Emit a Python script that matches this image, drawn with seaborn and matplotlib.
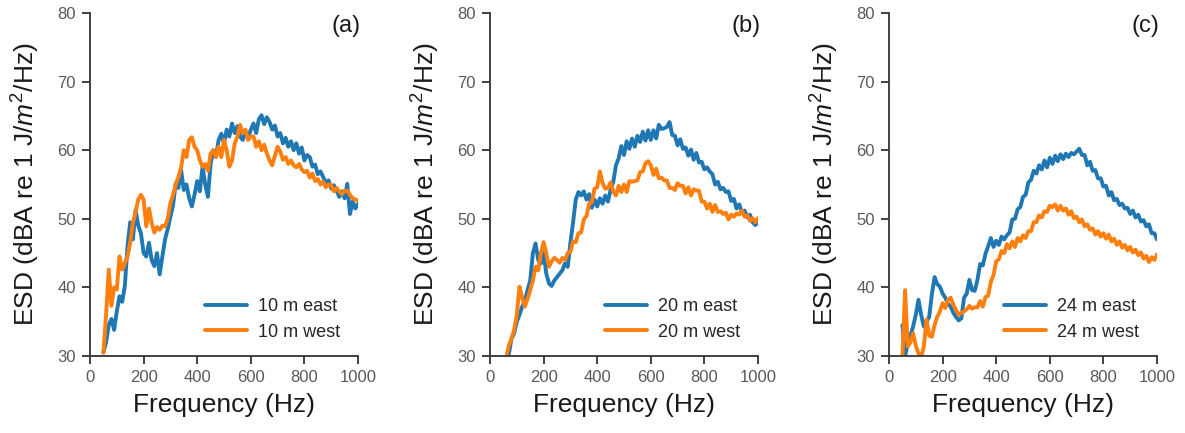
import matplotlib
matplotlib.use("Agg")
import matplotlib.pyplot as plt
import seaborn as sns
import pandas as pd

# ---------------- data ----------------
freq = list(range(50, 1001, 10))

east_10 = [30.5, 32.0, 34.5, 35.4, 33.8, 36.5, 38.7, 37.9, 40.2, 46.0,
           49.5, 47.0, 51.3, 49.0, 47.9, 45.0, 44.5, 46.5, 44.0, 43.1,
           45.0, 41.9, 44.5, 47.0, 48.5, 50.3, 52.0, 55.2, 54.5, 57.1,
           54.2, 55.0, 53.0, 51.8, 53.5, 55.5, 54.0, 57.6, 55.0, 53.2,
           58.0, 60.0, 59.0, 61.5, 62.4, 61.0, 63.0, 62.0, 63.9, 62.5,
           63.5, 62.0, 61.5, 62.8, 61.8, 63.0, 63.9, 62.5, 64.5, 65.1,
           63.8, 64.8, 64.1, 63.0, 63.6, 62.0, 62.5, 61.0, 61.8, 60.5,
           61.3, 60.0, 61.0, 59.5, 60.4, 58.5, 59.3, 59.0, 57.6, 57.9,
           56.5, 56.9, 56.1, 55.2, 55.6, 54.4, 54.9, 54.1, 53.2, 54.0,
           53.0, 55.1, 50.7, 52.5, 51.5, 52.2]
west_10 = [30.5, 36.0, 42.6, 37.3, 40.0, 39.7, 44.5, 42.6, 43.5, 44.5,
           46.5, 49.4, 51.0, 52.8, 53.5, 52.8, 48.9, 51.5, 49.4, 48.0,
           48.8, 48.4, 49.0, 48.9, 50.0, 52.3, 53.5, 55.0, 56.1, 57.5,
           60.0, 59.0, 61.5, 61.9, 60.5, 60.0, 58.5, 57.6, 58.0, 57.0,
           59.5, 60.0, 59.0, 60.5, 59.0, 61.5, 60.0, 57.6, 58.5, 61.0,
           62.0, 63.7, 62.5, 63.0, 61.5, 62.0, 62.0, 60.5, 61.3, 60.0,
           60.8, 59.5, 58.5, 57.8, 59.2, 60.5, 59.8, 58.6, 59.0, 58.0,
           58.5, 57.8, 57.5, 58.0, 57.2, 56.8, 57.0, 56.0, 56.6, 55.5,
           55.8, 55.0, 55.4, 54.6, 55.0, 54.9, 54.0, 54.5, 54.0, 53.6,
           54.1, 54.1, 53.5, 53.0, 52.8, 52.7]

east_20 = [27.0, 28.5, 30.2, 32.5, 33.3, 35.0, 36.0, 37.2, 38.0, 39.6,
           41.0, 45.0, 46.4, 44.0, 43.5, 45.0, 42.0, 40.6, 40.2, 41.0,
           41.5, 42.0, 42.5, 43.5, 43.0, 46.5, 49.5, 52.8, 53.9, 53.4,
           54.0, 52.8, 53.6, 51.6, 52.8, 51.8, 53.0, 52.2, 53.4, 52.5,
           54.2, 55.4, 57.8, 58.8, 60.6, 59.3, 61.3, 60.2, 61.7, 60.5,
           62.1, 61.2, 62.7, 61.4, 62.9, 61.5, 62.9, 61.7, 63.7, 63.1,
           63.2, 63.4, 64.1, 62.2, 62.1, 60.7, 61.6, 60.2, 60.4, 59.2,
           60.1, 58.6, 59.6, 58.2, 58.3, 57.2, 57.5, 56.9, 56.5, 55.0,
           55.4, 54.3, 54.5, 53.9, 54.0, 52.6, 52.9, 51.5, 52.1, 51.0,
           51.2, 50.2, 50.6, 49.5, 49.1, 49.5]
west_20 = [27.5, 29.5, 31.5, 32.5, 33.8, 36.0, 40.1, 38.5, 37.2, 38.3,
           39.6, 41.0, 43.0, 42.5, 45.0, 46.6, 45.0, 43.0, 43.8, 44.3,
           44.0, 43.6, 44.3, 44.0, 45.0, 45.2, 46.7, 46.6, 47.9, 48.0,
           49.9, 50.4, 52.2, 52.4, 54.4, 54.6, 56.9, 55.2, 54.4, 54.5,
           55.3, 54.0, 53.4, 54.8, 53.9, 55.0, 53.9, 55.5, 55.4, 55.5,
           55.6, 56.8, 56.9, 58.1, 58.4, 57.8, 56.4, 57.3, 55.9, 56.0,
           55.6, 55.6, 54.5, 54.5, 54.2, 55.2, 54.8, 54.8, 53.7, 54.6,
           53.4, 54.3, 54.1, 54.1, 52.5, 52.5, 51.5, 52.2, 51.0, 52.0,
           51.0, 51.1, 50.7, 50.9, 49.9, 50.6, 50.3, 50.8, 50.6, 51.2,
           50.3, 50.5, 49.7, 50.1, 49.5, 50.1]

east_24 = [34.5, 30.0, 31.8, 33.0, 34.3, 36.0, 38.2, 36.0, 34.3, 35.0,
           35.7, 39.0, 41.5, 40.5, 40.1, 39.1, 38.5, 37.6, 37.2, 36.3,
           35.7, 35.2, 35.5, 38.5, 39.1, 41.1, 39.6, 39.5, 41.1, 43.4,
           43.2, 44.9, 46.0, 47.2, 45.9, 46.8, 46.2, 47.4, 47.0, 47.6,
           48.0, 49.9, 50.0, 51.4, 51.7, 53.2, 53.5, 55.3, 55.7, 57.0,
           56.6, 57.8, 57.2, 58.5, 57.5, 58.9, 58.0, 59.2, 58.4, 59.4,
           58.7, 59.5, 59.0, 59.6, 59.4, 59.8, 60.2, 59.3, 59.3, 57.8,
           58.3, 57.0, 57.1, 55.9, 55.9, 54.7, 54.8, 53.4, 53.9, 52.7,
           52.9, 52.0, 52.2, 51.5, 51.6, 50.7, 51.2, 50.2, 50.6, 49.6,
           49.8, 48.9, 49.2, 47.9, 47.9, 47.0]
west_24 = [29.5, 39.6, 31.4, 32.0, 33.3, 31.5, 30.4, 29.8, 31.4, 35.3,
           33.0, 32.8, 34.5, 35.7, 36.5, 37.7, 37.0, 38.2, 38.5, 37.5,
           36.7, 36.0, 36.3, 36.5, 36.8, 37.3, 36.9, 37.1, 37.1, 38.0,
           37.2, 38.6, 38.8, 40.8, 41.8, 43.8, 44.1, 45.3, 45.0, 46.3,
           45.7, 46.7, 45.9, 47.2, 46.7, 47.6, 47.2, 48.2, 48.2, 49.5,
           49.5, 50.5, 50.2, 51.1, 51.0, 51.9, 51.7, 52.1, 51.2, 51.9,
           51.2, 51.5, 50.6, 51.1, 50.1, 50.3, 49.5, 49.9, 48.9, 49.2,
           48.4, 48.6, 47.7, 48.2, 47.4, 47.9, 47.1, 47.7, 46.7, 47.1,
           46.2, 46.7, 45.8, 46.2, 45.4, 45.9, 45.1, 45.5, 44.7, 45.1,
           44.2, 44.6, 43.7, 44.4, 44.0, 44.8]

panel_tags = ["(a)", "(b)", "(c)"]
distances = ["10 m", "20 m", "24 m"]
series = [(east_10, west_10), (east_20, west_20), (east_24, west_24)]
x_ticks = [0, 200, 400, 600, 800, 1000]
y_ticks = [30, 40, 50, 60, 70, 80]

# ---------------- style ----------------
sns.set_theme(style="ticks")
plt.rcParams["font.family"] = ["Liberation Sans", "DejaVu Sans"]
plt.rcParams["mathtext.fontset"] = "custom"
plt.rcParams["mathtext.rm"] = "Liberation Sans"
plt.rcParams["mathtext.it"] = "Liberation Sans:italic"

BLUE = "#1f77b4"
ORANGE = "#ff7f0e"

fig = plt.figure(figsize=(11.85, 4.33), dpi=100)
W, H = 1185, 433
lefts = [90, 490, 889]
for i, (tag, dist, (e, w)) in enumerate(zip(panel_tags, distances, series)):
    ax = fig.add_axes([lefts[i] / W, 1 - 356 / H, 268 / W, 343 / H])
    df = pd.DataFrame({"f": freq, "east": e, "west": w})
    sns.lineplot(data=df, x="f", y="east", ax=ax, color=BLUE, lw=2.8,
                 label=f"{dist} east")
    sns.lineplot(data=df, x="f", y="west", ax=ax, color=ORANGE, lw=2.8,
                 label=f"{dist} west")
    ax.set_xlim(0, 1000)
    ax.set_ylim(30, 80)
    ax.set_xticks(x_ticks)
    ax.set_yticks(y_ticks)
    sns.despine(ax=ax)
    for s in ["left", "bottom"]:
        ax.spines[s].set_color("#333333")
        ax.spines[s].set_linewidth(1.3)
    ax.tick_params(axis="both", direction="out", length=6, width=1.3,
                   color="#333333", labelsize=12, labelcolor="#595959", pad=4)
    ax.set_xlabel("Frequency (Hz)", fontsize=19, color="#1a1a1a", labelpad=6)
    ax.set_ylabel("ESD (dBA re 1 J/$m^2$/Hz)", fontsize=19, color="#1a1a1a",
                  labelpad=11)
    ax.text(0.955, 0.962, tag, transform=ax.transAxes, fontsize=17,
            ha="center", va="center", color="#1a1a1a")
    ax.legend(loc="lower left", bbox_to_anchor=(0.43, 0.045), frameon=False,
              fontsize=13, handlelength=2.3, handletextpad=0.6,
              labelspacing=0.45, borderpad=0, borderaxespad=0)

fig.savefig("out.png", dpi=100)
